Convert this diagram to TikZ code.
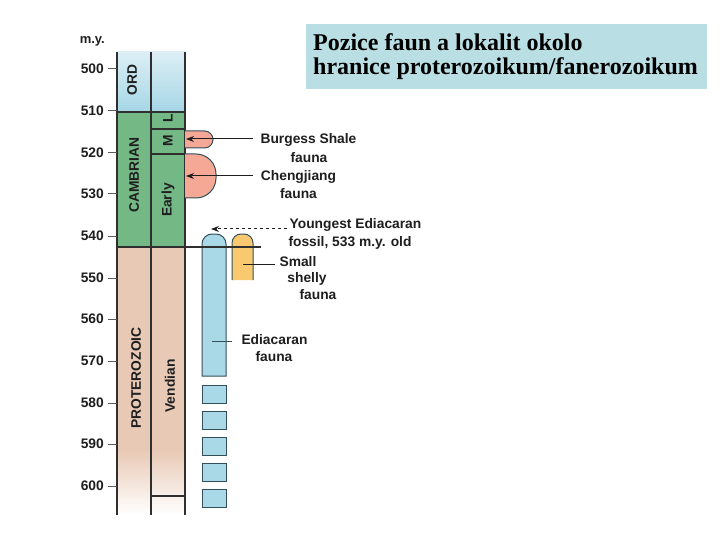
\documentclass[tikz,border=0pt]{standalone}
\usepackage{fontspec}
\setmainfont{Liberation Sans}
\newfontfamily\titlefont{Liberation Serif}
\usetikzlibrary{arrows.meta}
\definecolor{ordtop}{HTML}{DCEFF5}
\definecolor{ordbot}{HTML}{A6D6E6}
\definecolor{camgreen}{HTML}{74B886}
\definecolor{protan}{HTML}{E8C9B5}
\definecolor{pinkf}{HTML}{F5A896}
\definecolor{yellowf}{HTML}{F8C96E}
\definecolor{bluef}{HTML}{A9D8E6}
\definecolor{edge}{HTML}{2F2F2F}
\definecolor{bedge}{HTML}{33505A}
\definecolor{titlebg}{HTML}{B9DEE3}
\definecolor{txt}{HTML}{1E1E1E}
\begin{document}
\begin{tikzpicture}[x=1pt,y=-1pt,
  lab/.style={font=\fontsize{13.8}{15}\selectfont\bfseries, text=txt, inner sep=0pt},
  collab/.style={lab, rotate=90},
  ticklab/.style={lab, anchor=east},
  tickline/.style={draw=edge!80, line width=1pt},
  colline/.style={draw=edge, line width=1.1pt},
  fossil/.style={draw=bedge, line width=1pt},
  pointer/.style={draw=txt, line width=1pt, -{Stealth[length=8pt,width=6pt]}},
  leader/.style={draw=bedge, line width=1pt},
  ttl/.style={font=\titlefont\fontsize{24}{26}\selectfont\bfseries, text=black, anchor=base west, inner sep=0pt}]
\useasboundingbox (0,0) rectangle (720,540);
% title
\fill[titlebg] (306,24) rectangle (707,89);
\node[ttl] (t1) at (313,50.7) {Pozice faun a lokalit okolo};
\node[ttl] (t2) at (313,75) {hranice proterozoikum/fanerozoikum};
% column fills
\shade[top color=ordtop, bottom color=ordbot] (117,52) rectangle (185,112);
\fill[camgreen] (117,112) rectangle (185,247);
\fill[protan] (117,247) rectangle (185,450);
\shade[top color=protan, bottom color=white] (117,450) rectangle (185,515);
% column lines
\draw[colline] (117,52) -- (117,515);
\draw[colline] (151,52) -- (151,515);
\draw[colline] (185,52) -- (185,515);
\draw[colline] (117,112) -- (185,112);
\draw[colline] (151,129) -- (185,129);
\draw[colline] (151,154) -- (185,154);
\draw[colline] (151,496) -- (185,496);
% ticks and labels
\node[lab, font=\fontsize{13}{14}\selectfont\bfseries, anchor=east] (my) at (105,41) {m.y.};
\foreach \v/\y in {500/69,510/111,520/153,530/194,540/236,550/278,560/319,570/361,580/403,590/444,600/486}{
  \draw[tickline] (108,\y) -- (117,\y);
  \node[ticklab] (tick\v) at (104,\y) {\v};
}
% column labels
\node[collab] (ord) at (132,80) {ORD};
\node[collab] (camb) at (134,175) {CAMBRIAN};
\node[collab] (prot) at (136,378) {PROTEROZOIC};
\node[collab] (labL) at (168,118) {L};
\node[collab] (labM) at (168,141) {M};
\node[collab] (early) at (168,200) {Early};
\node[collab] (vend) at (170,386) {Vendian};
% fossil ranges
\draw[fossil, fill=pinkf] (185,131) [rounded corners=8.5pt] -- (213,131) -- (213,148) -- (185,148);
\draw[fossil, fill=pinkf] (185,154) [rounded corners=20pt] -- (216,154) -- (216,198) -- (185,198);
\draw[fossil, fill=bluef] (202,376) [rounded corners=10pt] -- (202,234) -- (226,234) [sharp corners] -- (226,376) -- cycle;
\fill[yellowf] (232,280) [rounded corners=9pt] -- (232,234) -- (253,234) [sharp corners] -- (253,280) -- cycle;
\draw[fossil] (232,280) [rounded corners=9pt] -- (232,234) -- (253,234) [sharp corners] -- (253,280);
\foreach \t in {385,411,437,463,489}{
  \draw[fossil, fill=bluef] (202,\t) rectangle (226,\t+18);
}
\draw[colline] (117,247) -- (261,247);
% labels
\node[lab] (bs1) at (308.5,140) {Burgess Shale};
\node[lab] (bs2) at (309,158) {fauna};
\node[lab] (cj1) at (298.5,177) {Chengjiang};
\node[lab] (cj2) at (298.5,194) {fauna};
\node[lab] (ye1) at (355.5,225) {Youngest Ediacaran};
\node[lab] (ye2) at (350,243) {fossil, 533 m.y. old};
\node[lab] (ss1) at (298,262) {Small};
\node[lab] (ss2) at (307,279) {shelly};
\node[lab] (ss3) at (318,295) {fauna};
\node[lab] (ed1) at (274.5,340) {Ediacaran};
\node[lab] (ed2) at (274,357) {fauna};
% connectors
\coordinate (bsA) at (253,139);
\coordinate (bsB) at (186,139);
\coordinate (cjA) at (253,176);
\coordinate (cjB) at (186,176);
\coordinate (yeA) at (287,229);
\coordinate (yeB) at (211,229);
\coordinate (ssA) at (275,264);
\coordinate (ssB) at (243,264);
\coordinate (edA) at (232,341);
\coordinate (edB) at (212,341);
\draw[pointer] (bsA) -- (bsB);
\draw[pointer] (cjA) -- (cjB);
\draw[pointer, dashed] (yeA) -- (yeB);
\draw[leader, draw=txt] (ssA) -- (ssB);
\draw[leader] (edA) -- (edB);
\end{tikzpicture}
\end{document}
